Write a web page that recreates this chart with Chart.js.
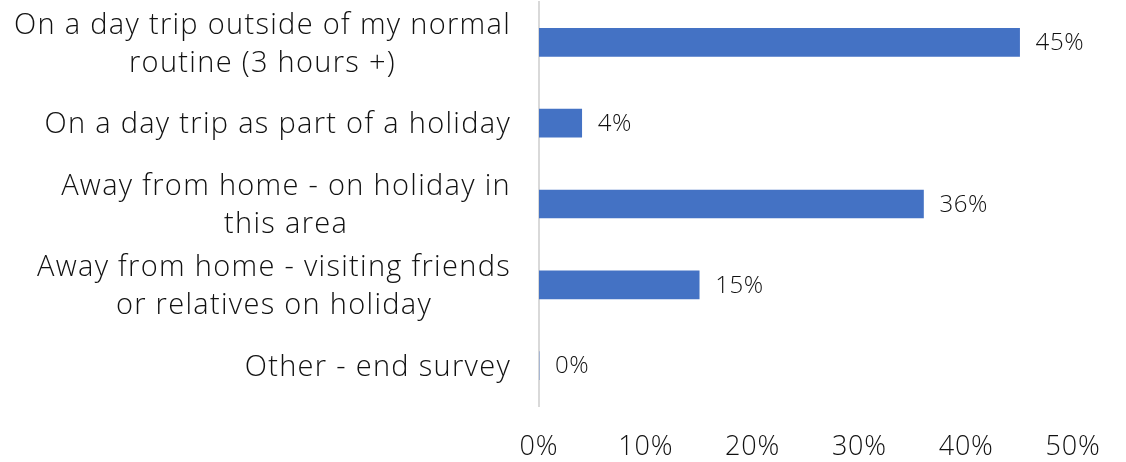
<!DOCTYPE html>
<html>
<head>
<meta charset="utf-8">
<script src="https://cdn.jsdelivr.net/npm/chart.js@4"></script>
<style>
  html, body { margin: 0; padding: 0; background: #fff; }
  #wrap { width: 1126px; height: 462px; position: relative; }
</style>
</head>
<body>
<div id="wrap"><canvas id="tripChart"></canvas></div>
<script>
// Survey: type of visit
const categories = [
    ['On a day trip outside of my normal', 'routine (3 hours +)'],
    ['On a day trip as part of a holiday'],
    ['Away from home - on holiday in', 'this area'],
    ['Away from home - visiting friends', 'or relatives on holiday'],
    ['Other - end survey']
];
const shares = [45, 4, 36, 15, 0];
const axisTicks = [0, 10, 20, 30, 40, 50];

const FONT = "'Open Sans', Lato, sans-serif";
const TEXT = '#111111';

// Category labels: block right-aligned to the axis, lines centred within the block
const categoryLabels = {
    id: 'categoryLabels',
    afterDraw(chart) {
        const ctx = chart.ctx;
        const y = chart.scales.y;
        const rightEdge = y.right - 28;
        const lineH = 38;
        ctx.save();
        ctx.font = '300 29px ' + FONT;
        ctx.letterSpacing = '1.3px';
        ctx.fillStyle = TEXT;
        ctx.textAlign = 'left';
        ctx.textBaseline = 'middle';
        categories.forEach((lines, i) => {
            const widths = lines.map(l => ctx.measureText(l).width);
            const widest = Math.max(...widths);
            const cx = rightEdge - widest / 2;
            const cy = y.getPixelForTick(i) + 2;
            const top = cy - (lines.length - 1) * lineH / 2;
            lines.forEach((l, k) => ctx.fillText(l, cx - widths[k] / 2, top + k * lineH));
        });
        ctx.restore();
    }
};

// Value labels at the end of each bar
const valueLabels = {
    id: 'valueLabels',
    afterDatasetsDraw(chart) {
        const ctx = chart.ctx;
        const meta = chart.getDatasetMeta(0);
        ctx.save();
        ctx.font = '300 24px ' + FONT;
        ctx.letterSpacing = '0.6px';
        ctx.fillStyle = TEXT;
        ctx.textAlign = 'left';
        ctx.textBaseline = 'middle';
        meta.data.forEach((bar, i) => {
            ctx.fillText(shares[i] + '%', bar.x + 16, bar.y + 1);
        });
        ctx.restore();
    }
};

// wider tracking for the axis tick text
const tickSpacing = {
    id: 'tickSpacing',
    beforeDraw(chart) { chart.ctx.letterSpacing = '0.8px'; },
    afterDraw(chart) { chart.ctx.letterSpacing = '0px'; }
};

const ctx = document.getElementById('tripChart').getContext('2d');
const tripChart = new Chart(ctx, {
    type: 'bar',
    data: {
        labels: categories.map(c => c.join(' ')),
        datasets: [{
            data: shares,
            backgroundColor: '#4472C4',
            barThickness: 28
        }]
    },
    options: {
        indexAxis: 'y',
        responsive: true,
        maintainAspectRatio: false,
        animation: false,
        layout: { padding: { top: 2, right: 53, bottom: 0, left: 0 } },
        plugins: {
            legend: { display: false },
            tooltip: { enabled: false }
        },
        scales: {
            x: {
                min: 0,
                max: 50,
                afterBuildTicks: s => { s.ticks = axisTicks.map(v => ({ value: v })); },
                afterFit: s => { s.height = 56; },
                grid: { display: false, drawTicks: false },
                border: { display: false },
                ticks: {
                    padding: 25,
                    color: TEXT,
                    font: { family: FONT, size: 27, weight: '300' },
                    maxRotation: 0,
                    callback: v => v + '%'
                }
            },
            y: {
                afterFit: s => { s.width = 539; },
                grid: { display: false, drawTicks: false },
                border: { display: true, color: '#d9d9d9', width: 2 },
                ticks: { display: false }
            }
        }
    },
    plugins: [tickSpacing, categoryLabels, valueLabels]
});
</script>
</body>
</html>
